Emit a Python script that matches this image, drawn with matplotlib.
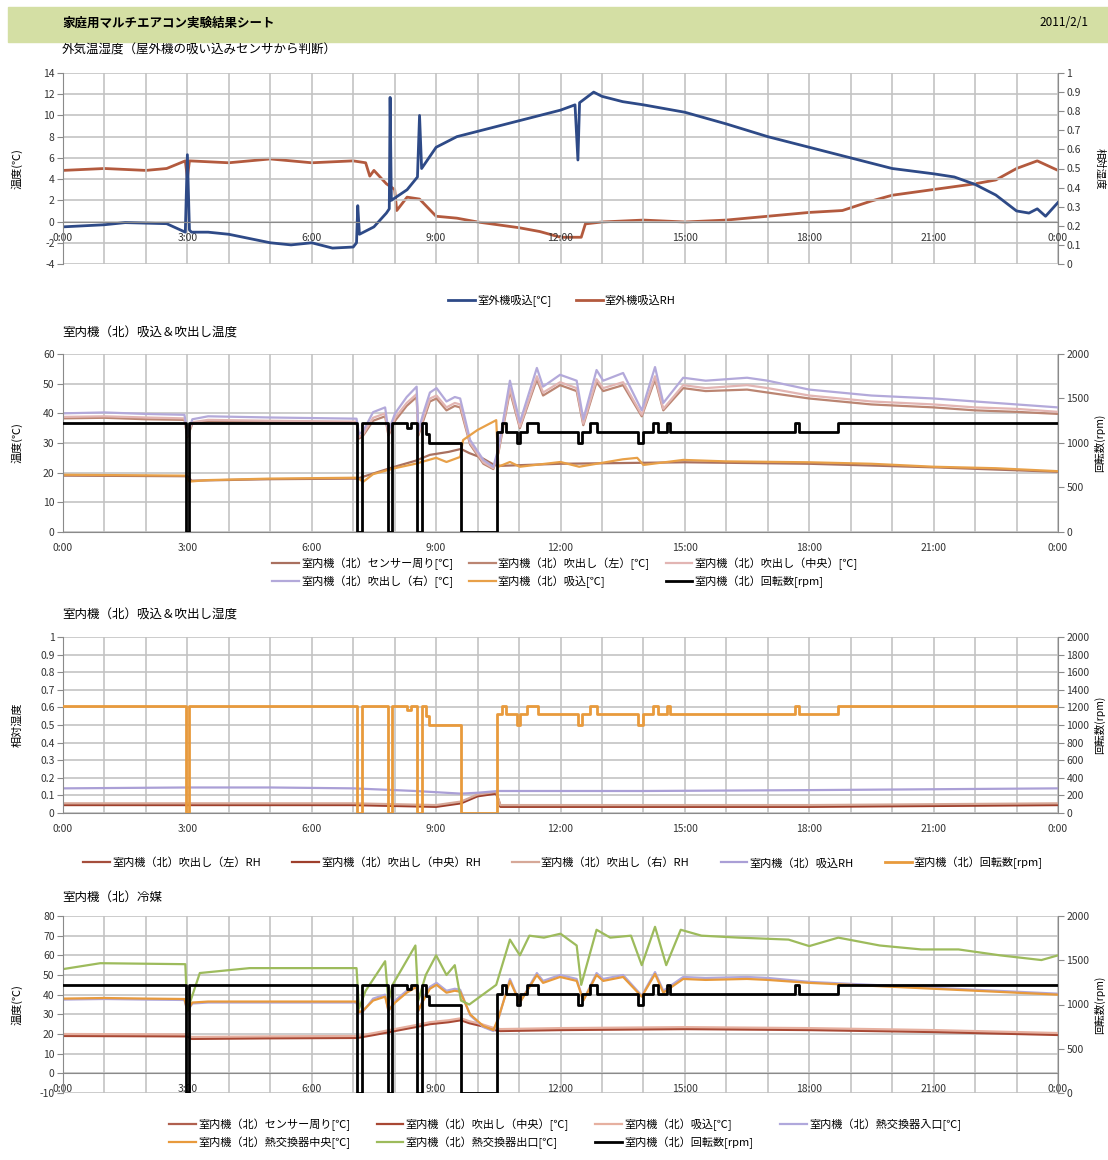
import numpy as np
import matplotlib.pyplot as plt
from matplotlib.ticker import MultipleLocator, FuncFormatter
from matplotlib.patches import Rectangle

plt.rcParams['font.family'] = ['Noto Sans CJK JP', 'DejaVu Sans']

# ---- data (hours from 0:00) ----
hour_ticks = [0, 3, 6, 9, 12, 15, 18, 21, 24]
hour_labels = ['0:00', '3:00', '6:00', '9:00', '12:00', '15:00', '18:00', '21:00', '0:00']

# panel 1: outdoor unit intake
out_t = [0, 1.0, 1.5, 2.5, 2.95, 3.0, 3.05, 3.1, 3.5, 4.0, 4.5, 5.0, 5.5, 6.0, 6.5, 7.0, 7.08, 7.11, 7.15,
         7.5, 7.8, 7.87, 7.89, 7.92, 8.3, 8.55, 8.6, 8.65, 9.0, 9.5, 10.0, 10.5, 11.0, 11.5, 12.0, 12.35,
         12.42, 12.46, 12.8, 13.0, 13.5, 14.0, 15.0, 16.0, 17.0, 18.0, 19.0, 20.0, 21.0, 21.5, 22.0, 22.5,
         23.0, 23.3, 23.5, 23.7, 24.0]
out_temp = [-0.5, -0.3, -0.1, -0.2, -1.0, 6.3, -0.8, -1.0, -1.0, -1.2, -1.6, -2.0, -2.2, -2.0, -2.5, -2.4, -2.0,
            1.5, -1.2, -0.5, 0.8, 1.2, 11.7, 2.0, 3.0, 4.2, 10.0, 5.0, 7.0, 8.0, 8.5, 9.0, 9.5, 10.0, 10.5, 11.0,
            5.8, 11.2, 12.2, 11.8, 11.3, 11.0, 10.3, 9.2, 8.0, 7.0, 6.0, 5.0, 4.5, 4.2, 3.5, 2.5,
            1.0, 0.8, 1.2, 0.5, 1.8]
rh_t = [0, 1, 2, 2.5, 2.95, 3.0, 3.05, 4, 5, 6, 7, 7.3, 7.4, 7.5, 7.8, 8.0, 8.05, 8.3, 8.6, 9.0, 9.5, 10,
        11, 11.5, 12, 12.5, 12.6, 13, 14, 15, 16, 17, 18, 18.8, 19.5, 20, 21, 22, 22.5, 23, 23.5, 24]
out_rh = [0.49, 0.50, 0.49, 0.50, 0.54, 0.45, 0.54, 0.53, 0.55, 0.53, 0.54, 0.53, 0.46, 0.49, 0.42, 0.39,
          0.28, 0.35, 0.34, 0.25, 0.24, 0.22, 0.19, 0.17, 0.14, 0.14, 0.21, 0.22, 0.23, 0.22, 0.23, 0.25,
          0.27, 0.28, 0.33, 0.36, 0.39, 0.42, 0.44, 0.50, 0.54, 0.49]

# fan speed of indoor unit (north), step data
rpm_t = [0, 2.97, 3.05, 7.1, 7.2, 7.84, 7.93, 8.3, 8.4, 8.55, 8.65, 8.75, 8.82, 9.6, 10.48, 10.58, 10.68,
         10.95, 11.02, 11.2, 11.45, 12.42, 12.52, 12.7, 12.88, 13.88, 14.0, 14.24, 14.34, 14.58, 14.64,
         17.65, 17.75, 18.7, 24]
rpm = [1220, 0, 1220, 0, 1220, 0, 1220, 1170, 1220, 0, 1220, 1100, 1000, 0, 1120, 1220, 1120,
       1000, 1120, 1220, 1120, 1000, 1120, 1220, 1120, 1000, 1120, 1220, 1120, 1220, 1120,
       1220, 1120, 1220, 1220]

# panel 2: blow-out / intake temperatures
blow_t = [0, 1, 2, 2.93, 3.0, 3.12, 3.5, 5.0, 7.08, 7.14, 7.24, 7.48, 7.77, 7.85, 8.01, 8.29, 8.53, 8.57,
          8.69, 8.85, 9.01, 9.25, 9.45, 9.58, 9.82, 10.14, 10.38, 10.5, 10.78, 11.02, 11.43, 11.58, 11.99,
          12.39, 12.55, 12.87, 13.03, 13.51, 13.96, 14.28, 14.48, 14.96, 15.5, 16.5, 17.0, 18.0, 19.5,
          21.0, 22.0, 23.0, 24.0]
blow_right = [40.0, 40.3, 39.8, 39.5, 33.0, 38.0, 39.0, 38.6, 38.2, 33.0, 34.0, 40.4, 42.0, 34.0, 40.0, 45.5,
              49.0, 34.0, 40.0, 47.0, 48.5, 44.0, 45.5, 45.0, 31.0, 24.3, 22.0, 28.0, 51.0, 37.0, 55.3, 49.0,
              53.0, 51.0, 38.0, 54.6, 51.0, 53.6, 41.0, 55.6, 43.5, 52.0, 51.0, 52.0, 51.0, 48.0, 46.0,
              45.0, 44.0, 43.0, 42.0]
blow_center = [38.8, 39.0, 38.6, 38.3, 32.5, 37.0, 37.8, 37.5, 37.2, 32.0, 33.0, 38.5, 40.0, 33.0, 38.5, 43.5,
               46.5, 33.0, 38.5, 45.0, 46.0, 42.0, 43.5, 43.0, 30.0, 23.5, 21.5, 27.0, 48.5, 35.5, 52.5, 47.0,
               50.5, 48.5, 36.5, 51.5, 48.5, 50.5, 39.5, 52.5, 41.5, 49.5, 48.5, 49.5, 48.5, 46.0, 44.0,
               43.0, 42.0, 41.5, 40.5]
blow_left = [38.3, 38.5, 38.0, 37.8, 32.0, 36.5, 37.3, 37.0, 36.8, 31.5, 32.5, 37.5, 39.0, 32.5, 37.5, 42.5,
             45.5, 32.5, 37.5, 44.0, 45.0, 41.0, 42.5, 42.0, 29.5, 23.0, 21.2, 26.5, 47.5, 35.0, 51.5, 46.0,
             49.5, 47.5, 36.0, 50.5, 47.5, 49.5, 39.0, 51.5, 41.0, 48.5, 47.5, 48.0, 47.0, 45.0, 43.0,
             42.0, 41.0, 40.5, 39.8]
in_t = [0, 2.95, 3.05, 3.5, 5.0, 7.1, 7.24, 7.48, 8.0, 8.5, 9.0, 9.25, 9.58, 9.65, 10.0, 10.45, 10.5, 10.78,
        11.02, 12.0, 12.45, 13.5, 13.85, 14.0, 14.96, 16.0, 18.0, 19.5, 21.0, 22.5, 24.0]
intake = [19.3, 19.0, 17.0, 17.5, 18.0, 18.3, 16.9, 19.5, 21.5, 23.0, 25.0, 23.6, 25.3, 31.0, 34.4, 37.7,
          22.0, 23.6, 22.0, 23.6, 22.0, 24.5, 25.0, 22.6, 24.3, 23.8, 23.5, 23.0, 22.0, 21.5, 20.5]
sens_t = [0, 3.0, 3.1, 5.0, 7.1, 7.5, 8.0, 8.5, 8.85, 9.3, 9.6, 9.8, 10.1, 10.4, 10.55, 12.0, 15.0, 18.0,
          21.0, 24.0]
sensor = [19.0, 18.8, 17.3, 17.8, 18.0, 19.8, 22.0, 24.0, 26.0, 27.0, 28.0, 26.6, 25.0, 22.6, 22.3, 23.0,
          23.5, 23.0, 21.8, 20.3]

# panel 3: humidity
hum_in_t = [0, 3, 5, 7, 7.5, 8.5, 9.6, 10.0, 10.5, 11, 14, 18, 21, 24]
hum_in = [0.14, 0.145, 0.145, 0.14, 0.135, 0.125, 0.11, 0.115, 0.125, 0.125, 0.125, 0.13, 0.135, 0.14]
hum_t = [0, 3, 7, 8, 9.0, 9.6, 10.0, 10.45, 10.55, 12, 15, 18, 21, 24]
hum_left = [0.05, 0.05, 0.05, 0.045, 0.04, 0.06, 0.10, 0.115, 0.04, 0.04, 0.04, 0.04, 0.045, 0.05]
hum_center = [0.045, 0.045, 0.045, 0.04, 0.035, 0.055, 0.095, 0.11, 0.035, 0.035, 0.035, 0.035, 0.04, 0.045]
hum_right = [0.055, 0.055, 0.055, 0.05, 0.045, 0.065, 0.105, 0.12, 0.045, 0.045, 0.045, 0.045, 0.05, 0.055]

# panel 4: refrigerant
hx_out_t = [0, 0.9, 2.95, 3.0, 3.3, 4.5, 7.08, 7.14, 7.3, 7.77, 7.85, 7.95, 8.5, 8.57, 8.75, 9.0, 9.25, 9.45,
            9.6, 9.8, 10.45, 10.78, 11.02, 11.25, 11.6, 12.0, 12.39, 12.5, 12.87, 13.2, 13.7, 13.96, 14.28,
            14.55, 14.9, 15.4, 16.3, 17.5, 17.8, 18.0, 18.7, 19.7, 20.7, 21.6, 22.6, 23.6, 24]
hx_out = [53, 56, 55.5, 32, 51, 53.5, 53.5, 33, 42, 57, 36, 45, 65, 37, 50, 60, 50, 55, 37, 35, 45, 68, 60,
          70, 69, 71, 65, 45, 73, 69, 70, 55, 74.5, 55, 73, 70, 69, 68, 66, 64.7, 69, 65, 63, 63, 60, 57.6, 60]
hx_mid = [38, 38.3, 38, 37.8, 32, 36, 36.5, 36.5, 36.5, 31, 32, 37, 39, 32, 36, 41, 44, 32, 37, 43, 45, 41,
          42, 41.5, 30, 24, 22, 28, 47, 36, 50, 46, 49, 47, 37, 50, 47, 49, 39, 50.5, 41, 48, 47.5, 48, 47.5,
          46, 44.5, 43, 42, 41, 40]
hx_in = [37.5, 37.8, 37.5, 37.3, 31.5, 35.5, 36, 36, 36, 30.5, 31.5, 38, 40, 31.5, 37, 42, 45, 31.5, 38, 44,
         46, 42, 43, 42.5, 29.5, 23.5, 21.5, 27.5, 48, 36, 51, 47, 50, 48, 37, 51, 48, 50, 39.5, 51.5, 42, 49,
         48.5, 49, 48.5, 46.5, 45, 43.5, 42.5, 41.5, 40.5]
ref_sensor = [19.5, 19.3, 18.0, 18.3, 18.5, 20.0, 22.0, 24.0, 25.5, 26.5, 27.5, 26.0, 24.5, 22.5, 22.0, 22.5,
              23.0, 22.5, 21.5, 20.0]
ref_blow_c = [19.0, 18.8, 17.5, 17.8, 18.0, 19.5, 21.5, 23.5, 25.0, 26.0, 27.0, 25.5, 24.0, 22.0, 21.5, 22.0,
              22.5, 22.0, 21.0, 19.5]
ref_intake = [20.0, 19.8, 18.5, 18.8, 19.0, 20.5, 22.5, 24.5, 26.0, 27.0, 28.0, 26.5, 25.0, 23.0, 22.5, 23.0,
              23.5, 23.0, 22.0, 20.5]

GRID = '#c3c3c3'
AXC = '#8a8a8a'
FS = 7.5
LFS = 8
num_fmt = FuncFormatter(lambda v, p: f'{round(v, 3):g}')


def setup(ax, ax2, ylim, ystep, y2lim, y2step, zero_axis=False):
    ax.set_xlim(0, 24)
    ax.set_ylim(*ylim)
    ax.xaxis.set_major_locator(plt.FixedLocator(hour_ticks))
    ax.xaxis.set_minor_locator(MultipleLocator(1))
    ax.set_xticklabels(hour_labels)
    ax.yaxis.set_major_locator(MultipleLocator(ystep))
    ax.yaxis.set_major_formatter(num_fmt)
    ax.grid(which='both', axis='x', color=GRID, lw=1.2)
    ax.grid(which='major', axis='y', color=GRID, lw=1.2)
    ax.set_axisbelow(True)
    ax.tick_params(axis='x', which='both', length=0, labelsize=FS, pad=8, colors='#333333')
    ax.tick_params(axis='y', length=4, width=0.8, color=AXC, labelsize=FS, pad=2, labelcolor='#333333')
    for s in ['top', 'right']:
        ax.spines[s].set_visible(False)
    ax.spines['left'].set_color(AXC)
    ax.spines['bottom'].set_color(AXC)
    if zero_axis:
        ax.spines['bottom'].set_position(('data', 0))
    ax2.set_ylim(*y2lim)
    ax2.yaxis.set_major_locator(MultipleLocator(y2step))
    ax2.yaxis.set_major_formatter(num_fmt)
    ax2.tick_params(axis='y', length=4, width=0.8, color=AXC, labelsize=FS, pad=2, labelcolor='#333333')
    for s in ['top', 'left', 'bottom']:
        ax2.spines[s].set_visible(False)
    ax2.spines['right'].set_color(AXC)


def right_label(ax2, text, rot=90):
    ax2.set_ylabel(text, fontsize=7.5, rotation=rot, va='center', ha='center')
    ax2.yaxis.set_label_coords(1.042, 0.5)


fig = plt.figure(figsize=(11.08, 11.6), dpi=100)

# header band
fig.patches.append(Rectangle((8 / 1108, 1 - 42 / 1160), 1100 / 1108, 35 / 1160,
                             transform=fig.transFigure, color='#d4dfa4', zorder=0))
fig.text(62 / 1108, 1 - 23 / 1160, '家庭用マルチエアコン実験結果シート', fontsize=9, fontweight='bold',
         va='center', ha='left')
fig.text(1088 / 1108, 1 - 23 / 1160, '2011/2/1', fontsize=8.5, va='center', ha='right')

L, W = 63 / 1108, 995 / 1108


def box(top, bottom):
    return [L, 1 - bottom / 1160, W, (bottom - top) / 1160]


# ---------- panel 1 ----------
ax = fig.add_axes(box(73, 264))
ax2 = ax.twinx()
setup(ax, ax2, (-4, 14), 2, (0, 1), 0.1, zero_axis=True)
l1, = ax.plot(out_t, out_temp, color='#2e4a87', lw=2)
l2, = ax2.plot(rh_t, out_rh, color='#b35a3e', lw=2)
ax.set_zorder(ax2.get_zorder() + 1)
ax.patch.set_visible(False)
ax.set_ylabel('温度(℃)', fontsize=8)
ax.yaxis.set_label_coords(-0.041, 0.5)
right_label(ax2, '相対湿度', rot=270)
fig.text(62 / 1108, 1 - 50 / 1160, '外気温湿度（屋外機の吸い込みセンサから判断）', fontsize=9, va='center')
fig.legend([l1, l2], ['室外機吸込[℃]', '室外機吸込RH'], loc='center', bbox_to_anchor=(562 / 1108, 1 - 301 / 1160),
           ncol=2, frameon=False, fontsize=LFS, handlelength=2.4, handletextpad=0.2, columnspacing=2.2)

# ---------- panel 2 ----------
ax = fig.add_axes(box(354, 532))
ax2 = ax.twinx()
setup(ax, ax2, (0, 60), 10, (0, 2000), 500)
a, = ax.plot(sens_t, sensor, color='#a9705f', lw=1.6)
b, = ax.plot(blow_t, blow_left, color='#bb8572', lw=1.6)
c, = ax.plot(blow_t, blow_center, color='#e2b5b3', lw=1.6)
d, = ax.plot(blow_t, blow_right, color='#b3a9da', lw=1.6)
e, = ax.plot(in_t, intake, color='#e8a048', lw=1.6)
f, = ax2.plot(rpm_t, rpm, color='black', lw=2, drawstyle='steps-post')
ax.set_ylabel('温度(℃)', fontsize=8)
ax.yaxis.set_label_coords(-0.041, 0.5)
right_label(ax2, '回転数(rpm)')
fig.text(62 / 1108, 1 - 333 / 1160, '室内機（北）吸込＆吹出し温度', fontsize=9, va='center')
labs2 = ['室内機（北）センサー周り[℃]', '室内機（北）吹出し（左）[℃]', '室内機（北）吹出し（中央）[℃]',
         '室内機（北）吹出し（右）[℃]', '室内機（北）吸込[℃]', '室内機（北）回転数[rpm]']
hs = [a, b, c, d, e, f]
order = [0, 3, 1, 4, 2, 5]
fig.legend([hs[i] for i in order], [labs2[i] for i in order], loc='center',
           bbox_to_anchor=(565 / 1108, 1 - 573 / 1160), ncol=3, frameon=False, fontsize=LFS,
           handlelength=2.4, handletextpad=0.2, columnspacing=1.4, labelspacing=0.5)

# ---------- panel 3 ----------
ax = fig.add_axes(box(637, 813))
ax2 = ax.twinx()
setup(ax, ax2, (0, 1), 0.1, (0, 2000), 200)
a, = ax.plot(hum_t, hum_left, color='#a54e3c', lw=1.6)
b, = ax.plot(hum_t, hum_center, color='#9e3f2c', lw=1.6)
c, = ax.plot(hum_t, hum_right, color='#d6a898', lw=1.6)
d, = ax.plot(hum_in_t, hum_in, color='#aa9fd6', lw=1.6)
e, = ax2.plot(rpm_t, rpm, color='#e89a3c', lw=2, drawstyle='steps-post')
ax.set_ylabel('相対湿度', fontsize=8)
ax.yaxis.set_label_coords(-0.041, 0.5)
right_label(ax2, '回転数(rpm)')
fig.text(62 / 1108, 1 - 615 / 1160, '室内機（北）吸込＆吹出し湿度', fontsize=9, va='center')
labs3 = ['室内機（北）吹出し（左）RH', '室内機（北）吹出し（中央）RH', '室内機（北）吹出し（右）RH',
         '室内機（北）吸込RH', '室内機（北）回転数[rpm]']
fig.legend([a, b, c, d, e], labs3, loc='center', bbox_to_anchor=(563 / 1108, 1 - 863 / 1160), ncol=5,
           frameon=False, fontsize=LFS, handlelength=2.4, handletextpad=0.2, columnspacing=2.8)

# ---------- panel 4 ----------
ax = fig.add_axes(box(916, 1093))
ax2 = ax.twinx()
setup(ax, ax2, (-10, 80), 10, (0, 2000), 500, zero_axis=True)
a, = ax.plot(sens_t, ref_sensor, color='#b0604f', lw=1.6)
b, = ax.plot(sens_t, ref_blow_c, color='#a84834', lw=1.6)
c, = ax.plot(sens_t, ref_intake, color='#e6b0a0', lw=1.6)
d, = ax.plot(blow_t, hx_in, color='#b0a8dc', lw=1.6)
e, = ax.plot(blow_t, hx_mid, color='#e89a3c', lw=1.6)
g, = ax.plot(hx_out_t, hx_out, color='#9dbb5c', lw=1.6)
h, = ax2.plot(rpm_t, rpm, color='black', lw=2, drawstyle='steps-post')
ax.set_ylabel('温度(℃)', fontsize=8)
ax.yaxis.set_label_coords(-0.041, 0.5)
right_label(ax2, '回転数(rpm)')
fig.text(62 / 1108, 1 - 897 / 1160, '室内機（北）冷媒', fontsize=9, va='center')
labs4 = ['室内機（北）センサー周り[℃]', '室内機（北）吹出し（中央）[℃]', '室内機（北）吸込[℃]',
         '室内機（北）熱交換器入口[℃]', '室内機（北）熱交換器中央[℃]', '室内機（北）熱交換器出口[℃]',
         '室内機（北）回転数[rpm]']
hs = [a, b, c, d, e, g, h]
order = [0, 4, 1, 5, 2, 6, 3]
fig.legend([hs[i] for i in order], [labs4[i] for i in order], loc='center',
           bbox_to_anchor=(565 / 1108, 1 - 1134 / 1160), ncol=4, frameon=False, fontsize=LFS,
           handlelength=2.4, handletextpad=0.2, columnspacing=2.4, labelspacing=0.5)

fig.savefig('out.png', dpi=100)
